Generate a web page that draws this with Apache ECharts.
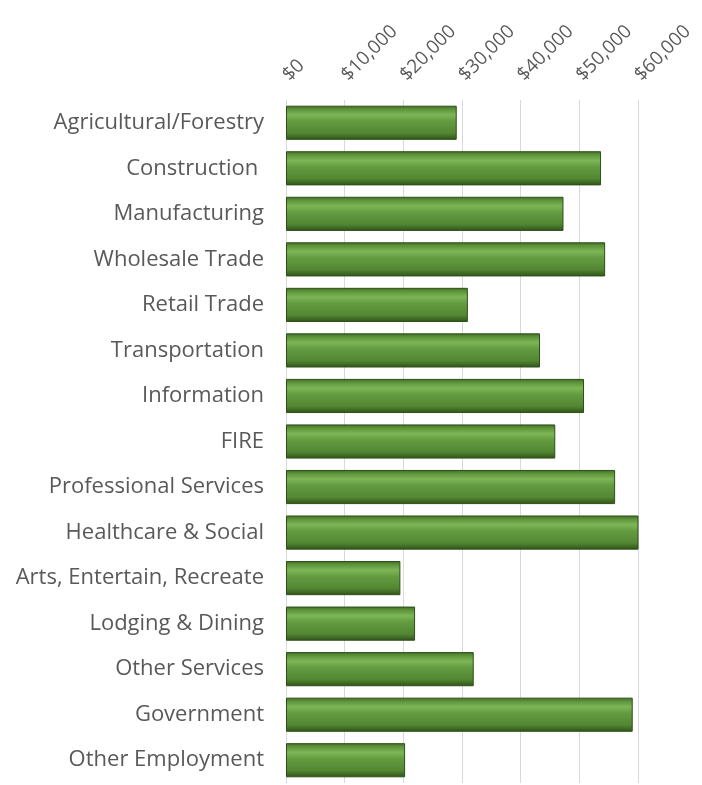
<!DOCTYPE html>
<html>
<head>
<meta charset="utf-8">
<script src="https://cdn.jsdelivr.net/npm/echarts@6/dist/echarts.min.js"></script>
<style>
  html, body { margin: 0; padding: 0; background: #fff; }
  #chart { width: 702px; height: 785px; }
</style>
</head>
<body>
<div id="chart"></div>
<script>
// Average annual wage by industry
const industries = [
  'Agricultural/Forestry',
  'Construction ',
  'Manufacturing',
  'Wholesale Trade',
  'Retail Trade',
  'Transportation',
  'Information',
  'FIRE',
  'Professional Services',
  'Healthcare & Social',
  'Arts, Entertain, Recreate',
  'Lodging & Dining',
  'Other Services',
  'Government',
  'Other Employment'
];
const wages = [
  29100, 53700, 47300, 54400, 31000, 43300, 50800, 45900,
  56100, 60100, 19500, 22000, 32000, 59100, 20300
];
const wageTicks = { min: 0, max: 60000, step: 10000 };

const chart = echarts.init(document.getElementById('chart'), null, { renderer: 'canvas' });

// Bevelled green fill: dark edges, light stripe near the top
const barFill = new echarts.graphic.LinearGradient(0, 0, 0, 1, [
  { offset: 0.00, color: '#3f6a26' },
  { offset: 0.10, color: '#5c9239' },
  { offset: 0.27, color: '#7db657' },
  { offset: 0.45, color: '#649c41' },
  { offset: 0.80, color: '#538733' },
  { offset: 0.92, color: '#3d6723' },
  { offset: 1.00, color: '#2e5018' }
]);

chart.setOption({
  animation: false,
  grid: { left: 286, top: 100, width: 352, bottom: 2, containLabel: false },
  xAxis: {
    type: 'value',
    position: 'top',
    min: wageTicks.min,
    max: wageTicks.max,
    interval: wageTicks.step,
    axisLine: { show: false },
    axisTick: { show: false },
    splitLine: { show: true, lineStyle: { color: '#d9d9d9', width: 1 } },
    axisLabel: {
      rotate: -45,
      margin: 22,
      color: '#595959',
      fontFamily: 'Open Sans',
      fontSize: 19,
      formatter: v => '$' + v.toLocaleString('en-US')
    }
  },
  yAxis: {
    type: 'category',
    inverse: true,
    data: industries,
    axisLine: { show: true, lineStyle: { color: '#d9d9d9' } },
    axisTick: { show: false },
    axisLabel: {
      margin: 22,
      color: '#595959',
      fontFamily: 'Open Sans',
      fontSize: 22
    }
  },
  series: [{
    type: 'bar',
    data: wages,
    barCategoryGap: '25%',
    itemStyle: {
      color: barFill,
      borderColor: '#2e5018',
      borderWidth: 1
    }
  }]
});
</script>
</body>
</html>
